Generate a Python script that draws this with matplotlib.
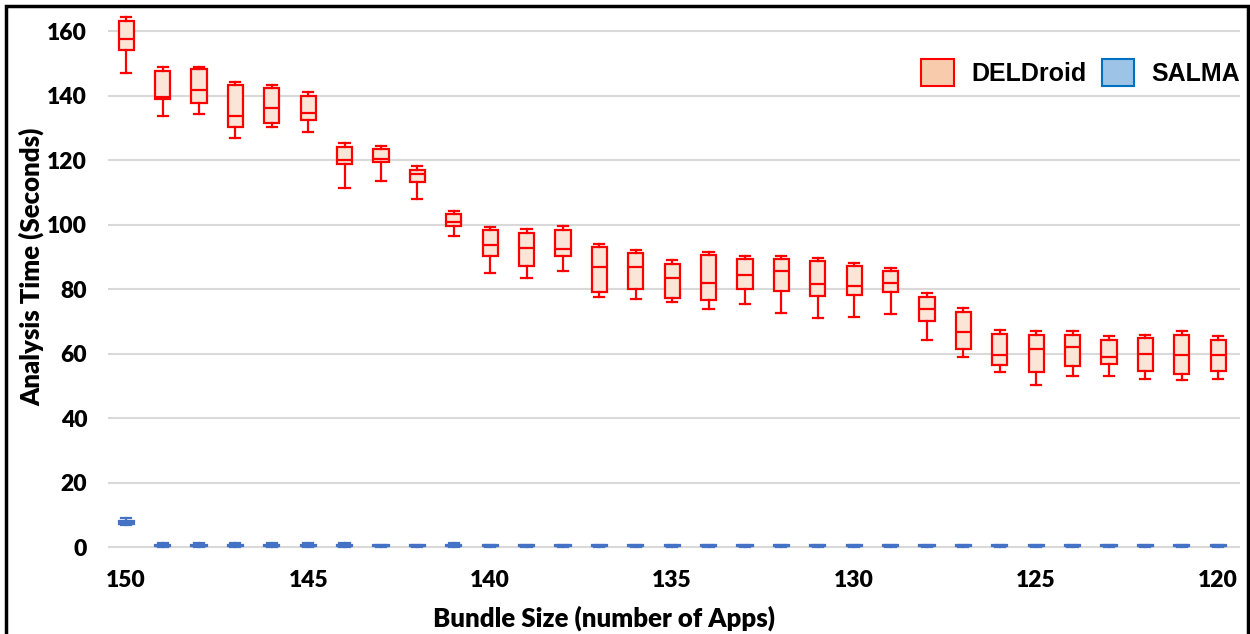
import matplotlib.pyplot as plt
from matplotlib.patches import Patch, Rectangle

# bundle sizes (x) and the five-number summaries for each tool
bundle = list(range(150, 119, -1))

del_whishi = [164.4, 148.9, 149.1, 144.3, 143.5, 141.1, 125.4, 124.4, 118.2, 104.4,
              99.3, 98.6, 99.6, 94.0, 92.3, 89.0, 91.5, 90.3, 90.3, 89.8,
              88.3, 86.6, 78.8, 74.1, 67.3, 67.1, 67.1, 65.4, 66.0, 67.1, 65.4]
del_q3 = [163.2, 147.8, 148.4, 143.5, 142.4, 140.0, 124.3, 123.4, 117.1, 103.4,
          98.3, 97.5, 98.5, 93.1, 91.3, 88.0, 90.7, 89.5, 89.5, 88.8,
          87.1, 85.6, 77.6, 73.1, 66.3, 66.0, 66.0, 64.4, 64.9, 66.0, 64.4]
del_med = [157.5, 139.7, 141.9, 133.7, 136.4, 134.8, 120.1, 120.4, 115.7, 101.0,
           93.7, 92.8, 92.5, 86.8, 86.8, 83.6, 82.0, 84.5, 85.6, 81.7,
           80.9, 82.0, 73.8, 66.9, 59.5, 61.4, 62.2, 58.9, 60.0, 59.5, 59.5]
del_q1 = [154.2, 138.9, 137.8, 130.2, 131.6, 132.6, 118.9, 119.6, 113.4, 99.8,
          90.4, 87.1, 90.3, 79.1, 80.1, 77.4, 76.8, 80.1, 79.6, 78.1,
          78.4, 79.3, 70.3, 61.6, 56.4, 54.4, 56.1, 56.8, 54.6, 53.8, 54.6]
del_whislo = [147.1, 133.7, 134.3, 126.9, 130.2, 128.8, 111.5, 113.5, 108.0, 96.4,
              85.1, 83.4, 85.6, 77.6, 77.1, 76.1, 73.9, 75.4, 72.7, 71.1,
              71.4, 72.4, 64.2, 59.0, 54.4, 50.5, 53.0, 53.0, 52.2, 52.0, 52.2]

sal_whishi = [9.0] + [1.3] * 6 + [0.8] * 2 + [1.3] + [0.8] * 21
sal_q3 = [8.3] + [0.7] * 30
sal_med = [7.8] + [0.5] * 30
sal_q1 = [7.3] + [0.3] * 30
sal_whislo = [6.9] + [0.1] * 30


def stats(lo, q1, med, q3, hi):
    return [dict(whislo=a, q1=b, med=c, q3=d, whishi=e)
            for a, b, c, d, e in zip(lo, q1, med, q3, hi)]


RED = '#FF0000'
BLUE = '#4472C4'

fig = plt.figure(figsize=(12.5, 6.34), dpi=100)
ax = fig.add_axes([0.0864, 0.129, 0.9056, 0.852])

ax.yaxis.grid(True, color='#D9D9D9', linewidth=1.5)
ax.set_axisbelow(True)

kw = dict(positions=bundle, widths=0.42, capwidths=0.28, patch_artist=True,
          showfliers=False)
ax.bxp(stats(del_whislo, del_q1, del_med, del_q3, del_whishi),
       boxprops=dict(facecolor='#FBE5D6', edgecolor=RED, linewidth=1.6),
       medianprops=dict(color=RED, linewidth=1.6),
       whiskerprops=dict(color=RED, linewidth=1.6),
       capprops=dict(color=RED, linewidth=1.6), **kw)
ax.bxp(stats(sal_whislo, sal_q1, sal_med, sal_q3, sal_whishi),
       boxprops=dict(facecolor=BLUE, edgecolor=BLUE, linewidth=1.6),
       medianprops=dict(color=BLUE, linewidth=1.6),
       whiskerprops=dict(color=BLUE, linewidth=1.6),
       capprops=dict(color=BLUE, linewidth=1.6), **kw)

ax.set_xlim(150.5, 119.4)
ax.set_ylim(-1.5, 166)
ax.set_yticks(range(0, 161, 20))
ax.set_xticks(range(150, 119, -5))
ax.set_xticklabels([str(v) for v in range(150, 119, -5)])

for s in ax.spines.values():
    s.set_visible(False)
ax.tick_params(axis='both', length=0, labelsize=16.5)
ax.tick_params(axis='y', pad=15)
ax.tick_params(axis='x', pad=13)
for t in ax.get_xticklabels() + ax.get_yticklabels():
    t.set_fontfamily('Lato')
    t.set_fontweight('heavy')

ax.set_xlabel('Bundle Size (number of Apps)', fontsize=18.5, fontweight='heavy',
              family='Lato')
ax.set_ylabel('Analysis Time (Seconds)', fontsize=18.5, fontweight='heavy',
              family='Lato')
ax.xaxis.set_label_coords(0.438, -0.098)
ax.yaxis.set_label_coords(-0.056, 0.528)

handles = [Patch(facecolor='#F8CBAD', edgecolor=RED, linewidth=1.5, label='DELDroid'),
           Patch(facecolor='#9DC3E6', edgecolor='#0070C0', linewidth=1.5, label='SALMA')]
ax.legend(handles=handles, loc='upper right', bbox_to_anchor=(1.02, 0.955), ncol=2,
          frameon=False, handlelength=1.3, handleheight=1.3, handletextpad=0.7,
          columnspacing=0.6, prop=dict(family='Liberation Sans', weight='bold', size=18))

# outer frame
fig.patches.append(Rectangle((0.005, -0.01), 0.993, 1.0, transform=fig.transFigure,
                             fill=False, edgecolor='black', linewidth=2.5))

fig.savefig('out.png', dpi=100)
